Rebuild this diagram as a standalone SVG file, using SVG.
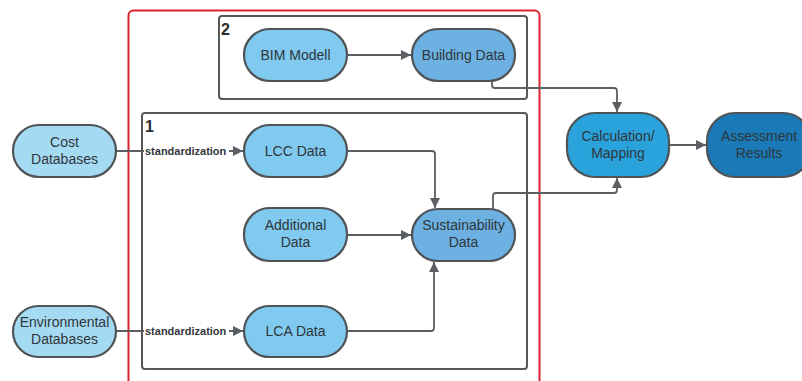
<svg xmlns="http://www.w3.org/2000/svg" width="802" height="381" viewBox="0 0 802 381">
  <style>
    .node { stroke: #4f5356; stroke-width: 2.2; }
    .t { font-family: "Liberation Sans", Arial, sans-serif; font-size: 14px; fill: #2f353b; text-anchor: middle; }
    .edge { fill: none; stroke: #5b5f63; stroke-width: 1.8; stroke-linejoin: round; }
    .frame { fill: none; stroke: #55595c; stroke-width: 2; }
    .num { font-family: "Liberation Sans", Arial, sans-serif; font-size: 16px; font-weight: bold; fill: #2a2e33; }
    .lbl { font-family: "Liberation Sans", Arial, sans-serif; font-size: 11px; font-weight: bold; fill: #33373b; }
    .src { fill: #a5daf3; }
    .data { fill: #7fcaee; }
    .mid { fill: #6db1e2; }
    .calc { fill: #2aa3dc; }
    .res { fill: #1a7ab8; }
  </style>
  <defs>
    <marker id="arrow" viewBox="0 0 10 10" refX="10" refY="5" markerWidth="10" markerHeight="10" markerUnits="userSpaceOnUse" orient="auto">
      <path d="M0,0 L10,5 L0,10 Z" fill="#5b5f63"/>
    </marker>
  </defs>

  <!-- outer red frame -->
  <rect x="128.5" y="10.5" width="411" height="385" rx="5" fill="none" stroke="#d9232e" stroke-width="2"/>

  <!-- group frames -->
  <g id="frame2">
    <rect class="frame" x="219" y="16" width="308" height="83" rx="3"/>
    <text class="num" x="221" y="35">2</text>
  </g>
  <g id="frame1">
    <rect class="frame" x="142" y="113" width="385" height="256" rx="3"/>
    <text class="num" x="145" y="132">1</text>
  </g>

  <!-- connectors -->
  <g id="connectors">
    <path class="edge" d="M347,55 H411" marker-end="url(#arrow)"/>
    <path class="edge" d="M492,81 V85 Q492,88 495,88 H614 Q617,88 617,91 V112" marker-end="url(#arrow)"/>
    <path class="edge" d="M116,151 H243" marker-end="url(#arrow)"/>
    <path class="edge" d="M116,331 H243" marker-end="url(#arrow)"/>
    <path class="edge" d="M347,151 H432 Q435,151 435,154 V208" marker-end="url(#arrow)"/>
    <path class="edge" d="M347,235 H411" marker-end="url(#arrow)"/>
    <path class="edge" d="M347,331 H431 Q434,331 434,328 V262" marker-end="url(#arrow)"/>
    <path class="edge" d="M493,209 V196 Q493,193 496,193 H614 Q617,193 617,190 V178" marker-end="url(#arrow)"/>
    <path class="edge" d="M669,145 H706" marker-end="url(#arrow)"/>
    <rect x="144" y="144" width="85" height="13" fill="#ffffff"/>
    <text class="lbl" x="145" y="155">standardization</text>
    <rect x="144" y="324" width="85" height="13" fill="#ffffff"/>
    <text class="lbl" x="145" y="335">standardization</text>
  </g>

  <!-- nodes -->
  <g id="bim-modell">
    <rect class="node data" x="244" y="29" width="103" height="52" rx="26"/>
    <text class="t" x="295.5" y="60">BIM Modell</text>
  </g>
  <g id="building-data">
    <rect class="node mid" x="412" y="29" width="103" height="52" rx="26"/>
    <text class="t" x="463.5" y="60">Building Data</text>
  </g>
  <g id="cost-databases">
    <rect class="node src" x="13" y="125" width="103" height="52" rx="26"/>
    <text class="t" x="64.5" y="147">Cost</text>
    <text class="t" x="64.5" y="164">Databases</text>
  </g>
  <g id="lcc-data">
    <rect class="node data" x="244" y="125" width="103" height="52" rx="26"/>
    <text class="t" x="295.5" y="156">LCC Data</text>
  </g>
  <g id="additional-data">
    <rect class="node data" x="244" y="208" width="103" height="53" rx="26"/>
    <text class="t" x="295.5" y="230">Additional</text>
    <text class="t" x="295.5" y="247">Data</text>
  </g>
  <g id="sustainability-data">
    <rect class="node mid" x="412" y="209" width="103" height="52" rx="26"/>
    <text class="t" x="463.5" y="230">Sustainability</text>
    <text class="t" x="463.5" y="247">Data</text>
  </g>
  <g id="lca-data">
    <rect class="node data" x="244" y="306" width="103" height="51" rx="25.5"/>
    <text class="t" x="295.5" y="336">LCA Data</text>
  </g>
  <g id="environmental-databases">
    <rect class="node src" x="13" y="306" width="103" height="51" rx="25.5"/>
    <text class="t" x="64.5" y="327">Environmental</text>
    <text class="t" x="64.5" y="344">Databases</text>
  </g>
  <g id="calculation-mapping">
    <rect class="node calc" x="567" y="113" width="102" height="64" rx="28"/>
    <text class="t" x="618" y="141">Calculation/</text>
    <text class="t" x="618" y="158">Mapping</text>
  </g>
  <g id="assessment-results">
    <rect class="node res" x="707" y="113" width="104" height="64" rx="28"/>
    <text class="t" x="759" y="141">Assessment</text>
    <text class="t" x="759" y="158">Results</text>
  </g>
</svg>
